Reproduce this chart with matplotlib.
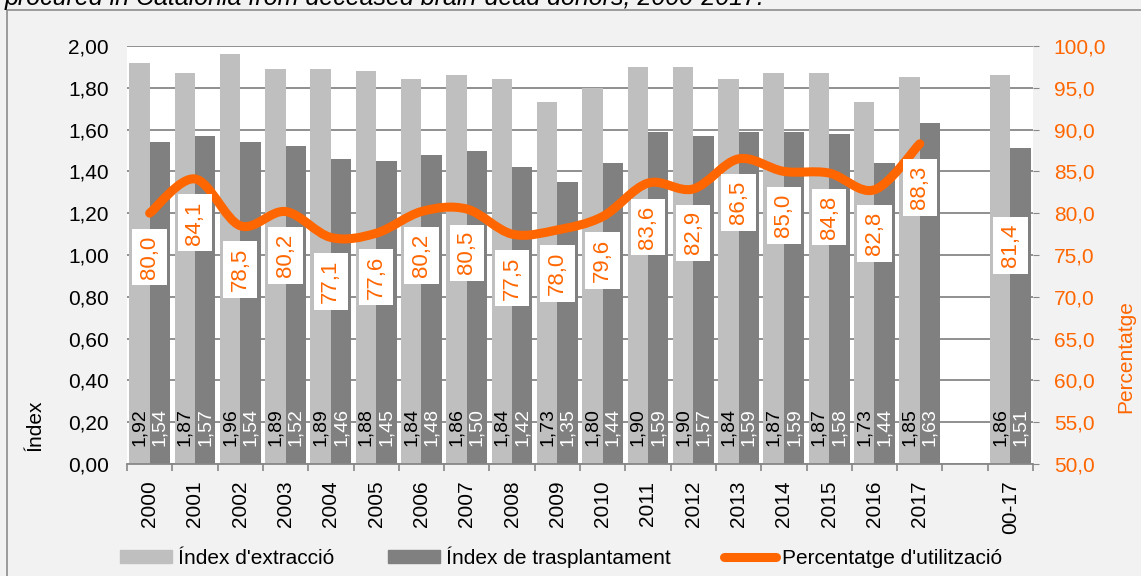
import numpy as np
import matplotlib
matplotlib.use("Agg")
from matplotlib import pyplot as plt
from matplotlib.path import Path
from matplotlib.patches import PathPatch, Patch, Rectangle
from matplotlib.lines import Line2D

plt.rcParams['font.family'] = ['Liberation Sans', 'DejaVu Sans']

# data
years = ['2000', '2001', '2002', '2003', '2004', '2005', '2006', '2007', '2008',
         '2009', '2010', '2011', '2012', '2013', '2014', '2015', '2016', '2017',
         '', '00-17']
extraccio = [1.92, 1.87, 1.96, 1.89, 1.89, 1.88, 1.84, 1.86, 1.84, 1.73,
             1.80, 1.90, 1.90, 1.84, 1.87, 1.87, 1.73, 1.85, None, 1.86]
trasplant = [1.54, 1.57, 1.54, 1.52, 1.46, 1.45, 1.48, 1.50, 1.42, 1.35,
             1.44, 1.59, 1.57, 1.59, 1.59, 1.58, 1.44, 1.63, None, 1.51]
utilitzacio = [80.0, 84.1, 78.5, 80.2, 77.1, 77.6, 80.2, 80.5, 77.5, 78.0,
               79.6, 83.6, 82.9, 86.5, 85.0, 84.8, 82.8, 88.3, None, 81.4]
line_years = 18  # the smoothed line only runs 2000-2017

light = '#BFBFBF'
dark = '#808080'
orange = '#FF6600'
gridc = '#878787'
bg = '#F2F2F2'


def comma(v, nd):
    return ('%.*f' % (nd, v)).replace('.', ',')


fig = plt.figure(figsize=(11.41, 5.76), dpi=100, facecolor=bg)
ax = fig.add_axes([127 / 1141, 1 - 464 / 576, (1033 - 127) / 1141, (464 - 46) / 576])
ax.set_facecolor('white')
ax2 = ax.twinx()

x = np.arange(len(years))
w = 0.45
for i in range(len(years)):
    if extraccio[i] is None:
        continue
    ax.bar(x[i] - w / 2, extraccio[i], w, color=light, zorder=2)
    ax.bar(x[i] + w / 2, trasplant[i], w, color=dark, zorder=2)
    ax.annotate(comma(extraccio[i], 2), (x[i] - w / 2, 0), xytext=(0, 13),
                textcoords='offset points', rotation=90, ha='center', va='bottom',
                fontsize=14, color='black', zorder=3)
    ax.annotate(comma(trasplant[i], 2), (x[i] + w / 2, 0), xytext=(0, 13),
                textcoords='offset points', rotation=90, ha='center', va='bottom',
                fontsize=14, color='white', zorder=3)

ax.set_xlim(-0.5, len(years) - 0.5)
ax.set_ylim(0, 2.0)
yt = np.arange(0, 2.01, 0.2)
ax.set_yticks(yt)
ax.set_yticklabels([comma(v, 2) for v in yt], fontsize=15)
ax.yaxis.grid(True, color=gridc, lw=1.3, zorder=0)
ax.set_axisbelow(True)
ax.tick_params(axis='y', length=0, pad=13)
ax.set_xticks(x)
ax.set_xticklabels(years, rotation=90, fontsize=15)
ax.set_xticks(np.arange(-0.5, len(years), 1.0), minor=True)
ax.tick_params(axis='x', which='major', length=0, pad=12)
ax.tick_params(axis='x', which='minor', length=5, color=gridc, width=1.2)
for s in ['top', 'left', 'right']:
    ax.spines[s].set_visible(False)
    ax2.spines[s].set_visible(False)
ax.spines['bottom'].set_color(gridc)
ax.spines['bottom'].set_linewidth(1.3)
ax2.spines['bottom'].set_visible(False)

ax2.set_ylim(50, 100)
yt2 = np.arange(50, 100.1, 5)
ax2.set_yticks(yt2)
ax2.set_yticklabels([comma(v, 1) for v in yt2], fontsize=15, color=orange)
ax2.tick_params(axis='y', length=4, color=gridc, pad=11)

# smoothed line (bezier segments through the values, like Excel)
px = list(x[:line_years].astype(float))
py = utilitzacio[:line_years]
verts = [(px[0], py[0])]
codes = [Path.MOVETO]
n = len(px)
for i in range(n - 1):
    p0 = (px[max(i - 1, 0)], py[max(i - 1, 0)])
    p1 = (px[i], py[i])
    p2 = (px[i + 1], py[i + 1])
    p3 = (px[min(i + 2, n - 1)], py[min(i + 2, n - 1)])
    c1 = (p1[0] + (p2[0] - p0[0]) / 6, p1[1] + (p2[1] - p0[1]) / 6)
    c2 = (p2[0] - (p3[0] - p1[0]) / 6, p2[1] - (p3[1] - p1[1]) / 6)
    verts += [c1, c2, p2]
    codes += [Path.CURVE4] * 3
ax2.add_patch(PathPatch(Path(verts, codes), facecolor='none', edgecolor=orange,
                        lw=6.5, capstyle='round', joinstyle='round', zorder=4))

for i in range(len(years)):
    if utilitzacio[i] is None:
        continue
    ax2.annotate(comma(utilitzacio[i], 1), (x[i], utilitzacio[i]),
                 xytext=(0, -16), textcoords='offset points', rotation=90,
                 ha='center', va='top', fontsize=16, color=orange, zorder=5,
                 bbox=dict(boxstyle='square,pad=0.3', fc='white', ec='none'))

# axis titles
fig.text(35 / 1141, 1 - 425 / 576, 'Índex', rotation=90, ha='center', va='center',
         fontsize=15)
fig.text(1126 / 1141, 1 - 357 / 576, 'Percentatge', rotation=90, ha='center',
         va='center', fontsize=15, color=orange)

# cropped caption above the chart frame
fig.text(5 / 1141, 1 - 5 / 576,
         'procured in Catalonia from deceased brain-dead donors, 2000-2017.',
         style='italic', fontsize=18, ha='left', va='baseline')
fig.patches.append(Rectangle((7 / 1141, -0.05), 1.1, 1 - 10 / 576 + 0.05,
                             transform=fig.transFigure, fill=False,
                             ec='#8C8C8C', lw=1.2))

handles = [Patch(color=light), Patch(color=dark),
           Line2D([], [], color=orange, lw=6.5, solid_capstyle='round')]
labels = ["Índex d'extracció", 'Índex de trasplantament', "Percentatge d'utilització"]
fig.legend(handles, labels, loc='center', bbox_to_anchor=(561 / 1141, 19 / 576),
           ncol=3, frameon=False, fontsize=15, handlelength=2.5,
           handletextpad=0.3, columnspacing=2.55, handleheight=0.55)

fig.savefig('out.png', dpi=100, facecolor=bg)
